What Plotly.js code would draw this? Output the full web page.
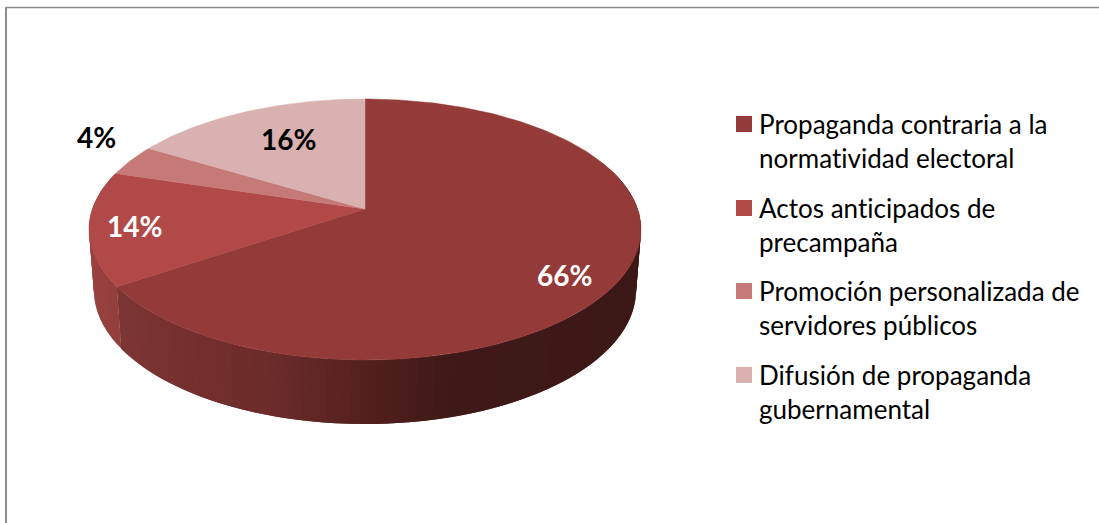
<!DOCTYPE html>
<html>
<head>
<meta charset="utf-8">
<script src="https://cdn.plot.ly/plotly-3.0.1.min.js"></script>
<style>html,body{margin:0;padding:0;background:#fff;overflow:hidden} text{font-variant-ligatures:none;letter-spacing:0.01px}</style>
</head>
<body>
<div id="chart" style="width:1099px;height:523px"></div>
<script>
const categories = [
  "Propaganda contraria a la<br>normatividad electoral",
  "Actos anticipados de<br>precampaña",
  "Promoción personalizada de<br>servidores públicos",
  "Difusión de propaganda<br>gubernamental"
];
const values = [65.6, 14.1, 3.9, 16.4];
const colors = ["#943B39", "#B04947", "#C67A78", "#D8B1B0"];
const labelColors = ["#ffffff", "#ffffff", "#000000", "#000000"];

// Geometry of the tilted disc, in the pixel-valued axis space
const FONT = "Lato, 'Open Sans', sans-serif";
const K = 0.157;
const TOP = {cx: 365, cy: 209, a: 272.6, b: 127.3};
const BOT = {cx: 365, cy: 269, a: 267.7, b: 130.7};
const labelPos = [[564, 275], [134, 226], [96, 137], [288, 139]];
const legendSwatchY = [124, 208, 291, 375];

function project(p, deg) {
  const t = deg * Math.PI / 180, u = Math.sin(t), v = Math.cos(t), w = 1 + K * v;
  return [p.cx + p.a * u / w, p.cy - p.b * v / w];
}
function mix(stops, x) {
  if (x <= stops[0][0]) return stops[0][1];
  for (let i = 1; i < stops.length; i++) {
    if (x <= stops[i][0]) {
      const f = (x - stops[i-1][0]) / (stops[i][0] - stops[i-1][0]);
      return stops[i-1][1].map((c, j) => c + f * (stops[i][1][j] - c));
    }
  }
  return stops[stops.length - 1][1];
}
const sideStops = [
  [118, [124, 54, 52]], [200, [115, 47, 45]], [280, [105, 43, 41]],
  [370, [80, 31, 29]], [450, [62, 25, 23]], [640, [60, 24, 22]]
];
const sideStops2 = [[90, [152, 66, 64]], [118, [146, 62, 60]]];

const total = values.reduce((a, b) => a + b, 0);
const traces = [];
let cum = [0];
values.forEach(v => cum.push(cum[cum.length - 1] + v / total * 360));

// Visible rim, split into thin overlapping bands so that it shades along its length.
const step = 1.5;
function band(d, e, stops) {
  const p0 = project(TOP, d), p1 = project(TOP, e), q1 = project(BOT, e), q0 = project(BOT, d);
  const c = mix(stops, (p0[0] + p1[0]) / 2);
  const col = `rgb(${c.map(Math.round).join(",")})`;
  traces.push({
    type: "scatter", mode: "lines", fill: "toself", fillcolor: col,
    line: {color: col, width: 0}, hoverinfo: "skip", showlegend: false,
    x: [p0[0], p1[0], q1[0], q0[0], p0[0]],
    y: [p0[1], p1[1], q1[1], q0[1], p0[1]]
  });
}
for (let d = 70; d < cum[1]; d += step) band(d, Math.min(d + step * 2, cum[1]), sideStops);
for (let d = cum[1]; d < cum[2]; d += step) band(d, Math.min(d + step * 2, cum[2]), sideStops2);

// Top faces
values.forEach((v, i) => {
  const xs = [TOP.cx], ys = [TOP.cy];
  const n = Math.max(8, Math.ceil(cum[i + 1] - cum[i]));
  for (let j = 0; j <= n; j++) {
    const p = project(TOP, cum[i] + (cum[i + 1] - cum[i]) * j / n);
    xs.push(p[0]); ys.push(p[1]);
  }
  xs.push(TOP.cx); ys.push(TOP.cy);
  traces.push({
    type: "scatter", mode: "lines", fill: "toself", fillcolor: colors[i],
    line: {color: colors[i], width: 0.5}, hoverinfo: "skip", showlegend: false,
    x: xs, y: ys
  });
});

const layout = {
  width: 1099, height: 523,
  margin: {l: 0, r: 0, t: 0, b: 0},
  paper_bgcolor: "#fff", plot_bgcolor: "#fff",
  xaxis: {range: [0, 1099], visible: false, fixedrange: true},
  yaxis: {range: [523, 0], visible: false, fixedrange: true},
  showlegend: false,
  shapes: [
    {type: "line", xref: "x", yref: "y", x0: 6, x1: 1099, y0: 7.5, y1: 7.5, line: {color: "#8c8c8c", width: 1.5}},
    {type: "line", xref: "x", yref: "y", x0: 6, x1: 6, y0: 7, y1: 523, line: {color: "#8c8c8c", width: 2}}
  ].concat(categories.map((c, i) => ({
    type: "rect", xref: "x", yref: "y", x0: 736, x1: 752,
    y0: legendSwatchY[i] - 8, y1: legendSwatchY[i] + 8,
    fillcolor: colors[i], line: {width: 0}
  }))),
  annotations: values.map((v, i) => ({
    x: labelPos[i][0], y: labelPos[i][1], xref: "x", yref: "y",
    text: Math.round(v) + "%", showarrow: false, xanchor: "center", yanchor: "middle",
    font: {family: FONT, size: 28, color: labelColors[i], weight: 700}
  })).concat(categories.map((c, i) => ({
    x: 757, y: legendSwatchY[i] + 17, xref: "x", yref: "y",
    text: c, showarrow: false, xanchor: "left", yanchor: "middle", align: "left",
    font: {family: FONT, size: 26, color: "#000"}
  })))
};
Plotly.newPlot("chart", traces, layout, {displayModeBar: false, staticPlot: true});
</script>
</body>
</html>
